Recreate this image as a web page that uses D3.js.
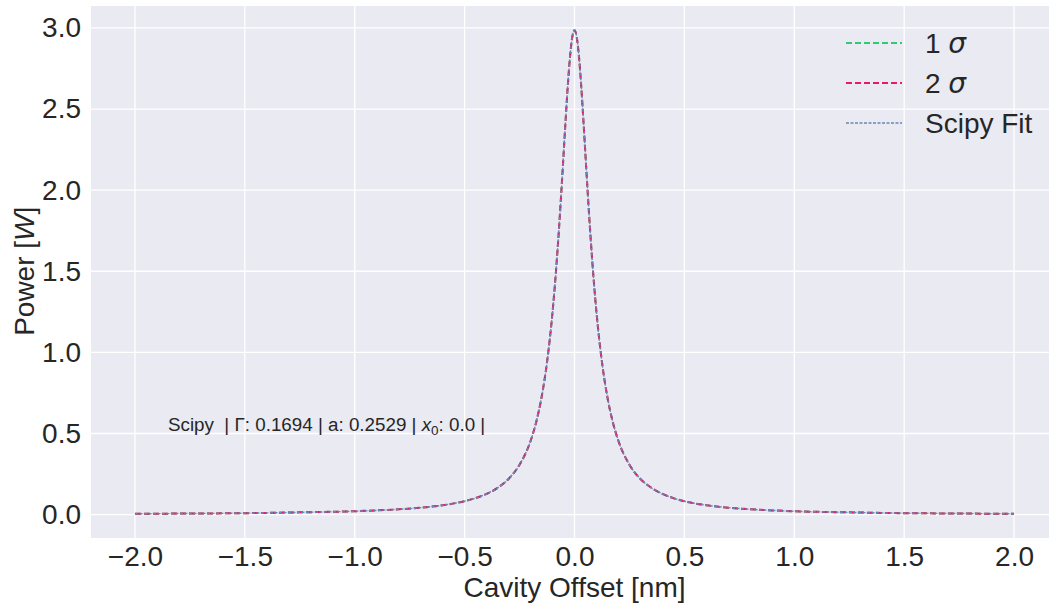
<!DOCTYPE html>
<html>
<head>
<meta charset="utf-8">
<script src="https://cdn.jsdelivr.net/npm/d3@7"></script>
<style>
  body { margin: 0; background: #fff; }
  svg text { font-family: "Liberation Sans", Arial, sans-serif; fill: #262626; }
</style>
</head>
<body>
<div id="chart"></div>
<script>
'use strict';

// cavity offset samples [nm]
var offsets = [-2.0, -1.75, -1.5, -1.25, -1.0, -0.9, -0.8, -0.7, -0.6, -0.5, -0.45, -0.4, -0.35, -0.3, -0.25,
  -0.2, -0.175, -0.15, -0.125, -0.1, -0.09, -0.08, -0.07, -0.06, -0.05, -0.04, -0.03, -0.02, -0.01, 0.0,
  0.01, 0.02, 0.03, 0.04, 0.05, 0.06, 0.07, 0.08, 0.09, 0.1, 0.125, 0.15, 0.175, 0.2,
  0.25, 0.3, 0.35, 0.4, 0.45, 0.5, 0.6, 0.7, 0.8, 0.9, 1.0, 1.25, 1.5, 1.75, 2.0];

// power [W]
var sigma1 = [0.005, 0.007, 0.009, 0.014, 0.021, 0.026, 0.033, 0.043, 0.058, 0.083, 0.102, 0.128, 0.165, 0.220, 0.308,
  0.454, 0.567, 0.722, 0.940, 1.247, 1.402, 1.578, 1.774, 1.988, 2.214, 2.441, 2.653, 2.828, 2.945, 2.986,
  2.945, 2.828, 2.653, 2.441, 2.214, 1.988, 1.774, 1.578, 1.402, 1.247, 0.940, 0.722, 0.567, 0.454,
  0.308, 0.220, 0.165, 0.128, 0.102, 0.083, 0.058, 0.043, 0.033, 0.026, 0.021, 0.014, 0.009, 0.007, 0.005];
var sigma2 = sigma1.slice();
var scipyFit = sigma1.slice();

var xTicks = [-2.0, -1.5, -1.0, -0.5, 0.0, 0.5, 1.0, 1.5, 2.0];
var yTicks = [0.0, 0.5, 1.0, 1.5, 2.0, 2.5, 3.0];

var width = 1049, height = 605;
var margin = {top: 6, right: -9, bottom: 67, left: 91};

var svg = d3.select('#chart').append('svg')
  .attr('width', width)
  .attr('height', height);

var x = d3.scaleLinear()
  .domain([-2.2, 2.2])
  .range([margin.left, width - margin.right]);

var y = d3.scaleLinear()
  .domain([-0.144, 3.135])
  .range([height - margin.bottom, margin.top]);

svg.append('rect')
  .attr('x', margin.left)
  .attr('y', margin.top)
  .attr('width', width - margin.right - margin.left)
  .attr('height', height - margin.bottom - margin.top)
  .attr('fill', '#EAEAF2');

// grid
var grid = svg.append('g');
grid.selectAll('.vg').data(xTicks).enter().append('line')
  .attr('x1', function (d) { return x(d); })
  .attr('x2', function (d) { return x(d); })
  .attr('y1', margin.top)
  .attr('y2', height - margin.bottom)
  .attr('stroke', '#fff').attr('stroke-width', 1.3);
grid.selectAll('.hg').data(yTicks).enter().append('line')
  .attr('y1', function (d) { return y(d); })
  .attr('y2', function (d) { return y(d); })
  .attr('x1', margin.left)
  .attr('x2', width - margin.right)
  .attr('stroke', '#fff').attr('stroke-width', 1.3);

// axes
var xAxis = d3.axisBottom(x).tickValues(xTicks).tickFormat(d3.format('.1f')).tickSize(0).tickPadding(8);
var yAxis = d3.axisLeft(y).tickValues(yTicks).tickFormat(d3.format('.1f')).tickSize(0).tickPadding(10);

svg.append('g')
  .attr('transform', 'translate(0,' + (height - margin.bottom) + ')')
  .call(xAxis)
  .call(function (g) { g.select('.domain').remove(); })
  .selectAll('text').attr('font-size', 28).attr('font-family', null).attr('fill', '#262626');

svg.append('g')
  .attr('transform', 'translate(' + margin.left + ',0)')
  .call(yAxis)
  .call(function (g) { g.select('.domain').remove(); })
  .selectAll('text').attr('font-size', 28).attr('font-family', null).attr('fill', '#262626');

// axis labels
svg.append('text')
  .attr('x', x(0))
  .attr('y', 597)
  .attr('text-anchor', 'middle')
  .attr('font-size', 28)
  .text('Cavity Offset [nm]');

var yl = svg.append('text')
  .attr('transform', 'translate(34,' + y(1.5) + ') rotate(-90)')
  .attr('text-anchor', 'middle')
  .attr('font-size', 28);
yl.append('tspan').text('Power [');
yl.append('tspan').attr('font-style', 'italic').text('W');
yl.append('tspan').text(']');

// curves
var series = [
  {name: '1', values: sigma1, color: '#2ECC71', width: 2, dash: '6,3'},
  {name: '2', values: sigma2, color: '#E8196B', width: 2, dash: '6,3'},
  {name: 'Scipy Fit', values: scipyFit, color: '#6C86B4', width: 1.4, dash: '3,1.5'}
];

var line = d3.line()
  .x(function (d) { return x(d[0]); })
  .y(function (d) { return y(d[1]); })
  .curve(d3.curveMonotoneX);

series.forEach(function (s) {
  svg.append('path')
    .datum(d3.zip(offsets, s.values))
    .attr('d', line)
    .attr('fill', 'none')
    .attr('stroke', s.color)
    .attr('stroke-width', s.width)
    .attr('stroke-dasharray', s.dash);
});

// annotation
var ann = svg.append('text')
  .attr('x', 168)
  .attr('y', 431)
  .attr('font-size', 18.8)
  .attr('xml:space', 'preserve');
ann.append('tspan').text('Scipy \u00A0| Γ: 0.1694 | a: 0.2529 | ');
ann.append('tspan').attr('font-style', 'italic').text('x');
ann.append('tspan').attr('font-size', 13.5).attr('dy', 4).text('0');
ann.append('tspan').attr('dy', -4).text(': 0.0 |');

// legend
var legend = svg.append('g');
series.forEach(function (s, i) {
  var ly = 43 + i * 40;
  legend.append('line')
    .attr('x1', 846).attr('x2', 902)
    .attr('y1', ly).attr('y2', ly)
    .attr('stroke', s.color)
    .attr('stroke-width', s.width)
    .attr('stroke-dasharray', s.dash);
  var t = legend.append('text')
    .attr('x', 925)
    .attr('y', ly + 10)
    .attr('font-size', 28);
  if (i < 2) {
    t.append('tspan').text(s.name + ' ');
    t.append('tspan').attr('font-style', 'italic').attr('font-family', 'DejaVu Sans').text('σ');
  } else {
    t.text(s.name);
  }
});
</script>
</body>
</html>
